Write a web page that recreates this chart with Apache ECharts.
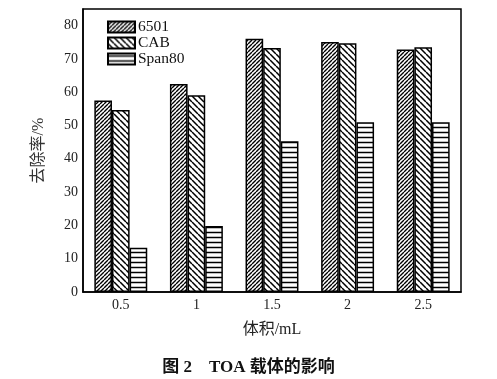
<!DOCTYPE html>
<html><head><meta charset="utf-8">
<script src="https://cdn.jsdelivr.net/npm/echarts@6/dist/echarts.min.js"></script>
<style>html,body{margin:0;padding:0;background:#fff}#c{width:497px;height:379px}</style>
</head><body><div id="c"></div>
<script>
const categories = ['0.5', '1', '1.5', '2', '2.5'];
const s6501 = [57.5, 62.5, 76.1, 75.1, 72.8];
const sCAB = [54.7, 59.1, 73.3, 74.7, 73.5];
const sSpan80 = [13.3, 19.8, 45.3, 51.0, 51.0];
const yTicks = [0, 10, 20, 30, 40, 50, 60, 70, 80];

function makePattern(type, size, lw) {
  const c = document.createElement('canvas');
  c.width = size; c.height = size;
  const ctx = c.getContext('2d');
  ctx.fillStyle = '#fff'; ctx.fillRect(0, 0, size, size);
  ctx.strokeStyle = '#000'; ctx.lineWidth = lw;
  ctx.beginPath();
  if (type === 'fwd') {
    for (let k = -1; k <= 1; k++) { ctx.moveTo(k * size, size); ctx.lineTo(k * size + size, 0); }
  } else if (type === 'back') {
    for (let k = -1; k <= 1; k++) { ctx.moveTo(k * size, 0); ctx.lineTo(k * size + size, size); }
  } else {
    ctx.moveTo(0, size / 2); ctx.lineTo(size, size / 2);
  }
  ctx.stroke();
  return { image: c, repeat: 'repeat' };
}

const serif = '"Liberation Serif", "Times New Roman", "Noto Sans CJK SC", serif';
const chart = echarts.init(document.getElementById('c'), null, { renderer: 'canvas' });
const barStyle = (pat) => ({ color: pat, borderColor: '#000', borderWidth: 1.5 });

chart.setOption({
  animation: false,
  backgroundColor: '#fff',
  grid: { left: 83, right: 36, top: 9, bottom: 87, show: true, borderColor: '#000', borderWidth: 1.5, backgroundColor: 'transparent' },
  title: {
    text: '图 2\u3000TOA 载体的影响',
    left: 'center', top: 354,
    textStyle: { fontFamily: serif, fontSize: 17, fontWeight: 'bold', color: '#111' }
  },
  legend: {
    orient: 'vertical', left: 107, top: 19, padding: 0,
    icon: 'rect',
    itemWidth: 27, itemHeight: 11, itemGap: 0,
    textStyle: { fontFamily: serif, fontSize: 15.5, color: '#111', padding: [0, 0, 0, -2], lineHeight: 16 },
    data: ['6501', 'CAB', 'Span80']
  },
  xAxis: {
    type: 'category', data: categories,
    name: '体积/mL', nameLocation: 'middle', nameGap: 30,
    nameTextStyle: { fontFamily: serif, fontSize: 16, color: '#222' },
    axisLine: { lineStyle: { color: '#000', width: 1.5 } },
    axisTick: { show: false },
    axisLabel: { fontFamily: serif, fontSize: 14, color: '#222', margin: 6 }
  },
  yAxis: {
    type: 'value', min: 0, max: 85, interval: 10,
    name: '去除率/%', nameLocation: 'middle', nameGap: 36,
    nameTextStyle: { fontFamily: serif, fontSize: 16, color: '#333' },
    axisLine: { show: true, lineStyle: { color: '#000', width: 1.5 } },
    axisTick: { show: false },
    splitLine: { show: false },
    axisLabel: {
      fontFamily: serif, fontSize: 14, color: '#222', margin: 5,
      formatter: (v) => (yTicks.indexOf(v) >= 0 ? String(v) : '')
    }
  },
  series: [
    { name: '6501', type: 'bar', data: s6501, barGap: '0%', barCategoryGap: '30%', itemStyle: barStyle(makePattern('fwd', 4, 1.4)) },
    { name: 'CAB', type: 'bar', data: sCAB, barGap: '0%', barCategoryGap: '30%', itemStyle: barStyle(makePattern('back', 6, 1.5)) },
    { name: 'Span80', type: 'bar', data: sSpan80, barGap: '0%', barCategoryGap: '30%', itemStyle: barStyle(makePattern('h', 5, 1.5)) }
  ]
});
</script></body></html>
